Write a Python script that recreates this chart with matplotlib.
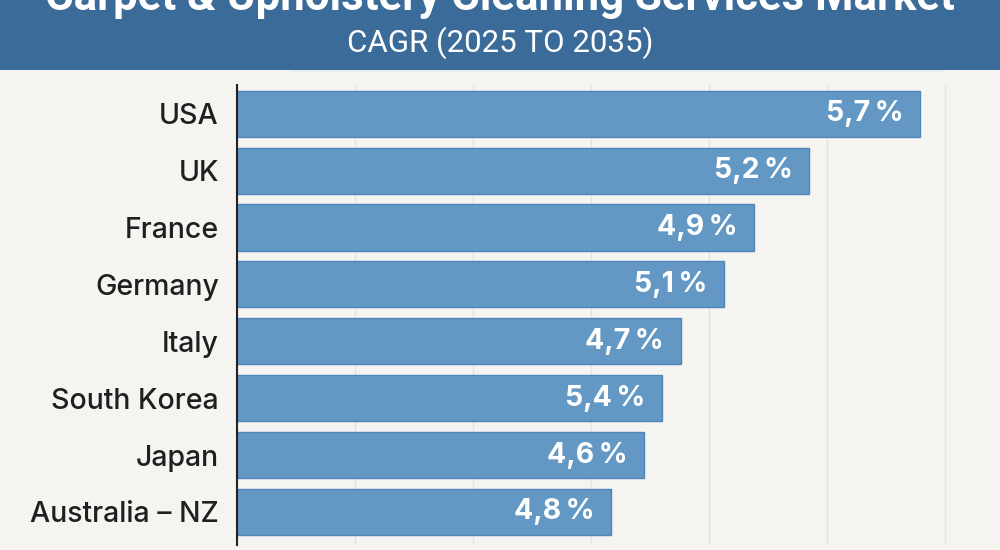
import matplotlib
matplotlib.use("Agg")
from matplotlib import pyplot as plt
from matplotlib.patches import Rectangle

TITLE = "Carpet & Upholstery Cleaning Services Market"
SUBTITLE = "CAGR (2025 TO 2035)"

countries = ["USA", "UK", "France", "Germany", "Italy", "South Korea", "Japan", "Australia – NZ"]
cagr = [5.7, 5.2, 4.9, 5.1, 4.7, 5.4, 4.6, 4.8]
# bar lengths as drawn in the picture (they do not follow the printed CAGR)
bar_length = [5.79, 4.85, 4.38, 4.13, 3.76, 3.60, 3.45, 3.17]

BG = "#f6f4f1"
BANNER = "#3b6b99"
BAR = "#6398c4"
BAR_EDGE = "#4f86ba"


def main():
    fig = plt.figure(figsize=(10, 5.5), dpi=100, facecolor=BG)

    # title banner
    fig.patches.append(Rectangle((0, 1 - 70 / 550), 1, 70 / 550, transform=fig.transFigure,
                                 facecolor=BANNER, edgecolor="none", zorder=0))
    fig.patches.append(Rectangle((0.29, 1 - 72 / 550), 0.655, 2 / 550, transform=fig.transFigure,
                                 facecolor="#e8edf2", edgecolor="none", zorder=0))
    fig.text(0.5, 1 - 10 / 550, TITLE, ha="center", va="baseline", color="white",
             fontsize=31.5, fontweight="bold", family="Roboto")
    fig.text(0.5, 1 - 43 / 550, SUBTITLE, ha="center", va="center", color="white",
             fontsize=22.5, family="Roboto")

    ax = fig.add_axes([0.237, 5 / 550, 0.763, 460 / 550])
    ax.set_facecolor(BG)
    y = list(range(len(countries)))
    ax.barh(y, bar_length, height=0.81, color=BAR, edgecolor=BAR_EDGE, linewidth=1, zorder=2)

    for yi, length, val in zip(y, bar_length, cagr):
        txt = f"{val:.1f}".replace(".", ",") + "\u2009%"
        ax.text(length - 0.14, yi, txt, ha="right", va="center", color="white",
                fontsize=20.5, fontweight="bold", family="Inter", zorder=3)

    ax.set_ylim(7.58, -0.504)
    ax.set_xlim(0, 763 / 118)
    ax.set_xticks([1, 2, 3, 4, 5, 6])
    ax.grid(axis="x", color="#e6e3df", linewidth=1, zorder=0)
    ax.tick_params(axis="x", length=0, labelbottom=False)
    ax.set_yticks(y)
    ax.set_yticklabels(countries, fontsize=20.5, color="#1f1f1f", family="Inter",
                       fontweight="medium")
    ax.tick_params(axis="y", length=0, pad=13)
    for side in ["top", "right", "bottom"]:
        ax.spines[side].set_visible(False)
    ax.spines["left"].set_color("#222222")
    ax.spines["left"].set_linewidth(1.5)

    fig.savefig("out.png", dpi=100, facecolor=BG)


if __name__ == "__main__":
    main()
